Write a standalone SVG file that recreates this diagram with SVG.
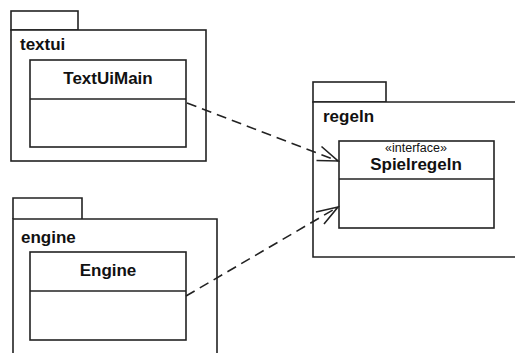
<svg xmlns="http://www.w3.org/2000/svg" width="515" height="353" viewBox="0 0 515 353">
<style>
.box{fill:#fff;stroke:#222;stroke-width:1.6}
.pk{font-family:"Liberation Sans",Arial,sans-serif;font-weight:bold;font-size:17px;fill:#111}
.cl{font-family:"Liberation Sans",Arial,sans-serif;font-weight:bold;font-size:17px;fill:#111;text-anchor:middle}
.st{font-family:"Liberation Sans",Arial,sans-serif;font-size:12.5px;fill:#111;text-anchor:middle}
.dep{fill:none;stroke:#222;stroke-width:1.6;stroke-dasharray:10,6}
.head{fill:none;stroke:#222;stroke-width:1.6}
</style>
<rect width="515" height="353" fill="#fff"/>
<g id="textui">
<rect class="box" x="11" y="11" width="67" height="19"/>
<rect class="box" x="11" y="30" width="195" height="131"/>
<text class="pk" x="20" y="50">textui</text>
</g>
<g id="TextUiMain">
<rect class="box" x="30" y="60" width="156" height="87"/>
<line class="box" x1="30" y1="99" x2="186" y2="99"/>
<text class="cl" x="108" y="84">TextUiMain</text>
</g>
<g id="engine">
<path class="box" d="M13 219 V198 H82 V219"/>
<path class="box" d="M13 360 V219 H217 V360"/>
<text class="pk" x="21" y="243">engine</text>
</g>
<g id="Engine">
<rect class="box" x="30" y="252" width="156" height="88"/>
<line class="box" x1="30" y1="291" x2="186" y2="291"/>
<text class="cl" x="108" y="276">Engine</text>
</g>
<g id="regeln">
<rect class="box" x="313" y="82" width="73" height="20"/>
<path class="box" d="M520 102 H313 V257 H520"/>
<text class="pk" x="323" y="122">regeln</text>
</g>
<g id="Spielregeln">
<rect class="box" x="339" y="141" width="155" height="87"/>
<line class="box" x1="339" y1="179" x2="494" y2="179"/>
<text class="st" x="416" y="151.5">«interface»</text>
<text class="cl" x="416" y="170">Spielregeln</text>
</g>
<g id="connectors">
<line class="dep" x1="187" y1="103" x2="338" y2="161"/>
<path class="head" d="M321.5 146.5 L338 161 L316.5 160.5"/>
<line class="dep" x1="186" y1="296" x2="338" y2="207"/>
<path class="head" d="M316 212 L338 207 L324 224"/>
</g>
</svg>
